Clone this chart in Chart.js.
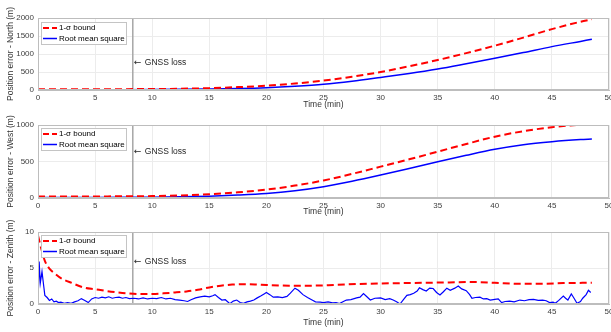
<!DOCTYPE html>
<html>
<head>
<meta charset="utf-8">
<script src="https://cdn.jsdelivr.net/npm/chart.js@4.4.1/dist/chart.umd.min.js"></script>
<style>
  html, body { margin: 0; padding: 0; background: #fff; overflow: hidden; }
  body { width: 611px; height: 332px; position: relative; }
  canvas { position: absolute; left: 0; }
</style>
</head>
<body>
<canvas id="northChart" width="611" height="110" style="top:0px"></canvas>
<canvas id="westChart" width="611" height="110" style="top:110px"></canvas>
<canvas id="zenithChart" width="611" height="112" style="top:220px"></canvas>
<script>
// time axis ticks (min)
const timeTicks = [0, 5, 10, 15, 20, 25, 30, 35, 40, 45, 50];
const gnssLossTime = 8.3;

// North / West error curves, sampled every 2.5 min
const smoothTime = [0, 2.5, 5, 7.5, 10, 12.5, 15, 17.5, 20, 22.5, 25, 27.5, 30, 32.5, 35, 37.5, 40, 42.5, 45, 47.5, 48.5];
const northSigma = [22, 22, 23, 24, 27, 35, 52, 80, 120, 180, 260, 370, 500, 660, 833, 1025, 1231, 1455, 1690, 1895, 1965];
const northRms   = [8, 8, 8, 9, 12, 18, 28, 42, 65, 105, 160, 245, 350, 460, 585, 730, 880, 1040, 1205, 1350, 1408];
const westSigma  = [22, 22, 22, 23, 26, 35, 52, 78, 115, 170, 240, 330, 430, 530, 635, 740, 840, 915, 970, 1005, 1012];
const westRms    = [8, 8, 8, 9, 11, 16, 25, 40, 62, 100, 155, 230, 315, 405, 497, 585, 667, 730, 771, 800, 808];

// Zenith bound
const zenithSigmaTime = [0, 0.3, 0.6, 1, 1.5, 2, 3, 4, 5, 6, 7, 8, 9, 10, 11, 12, 13, 14, 15, 16, 17, 18, 19, 20, 22, 24, 26, 28, 30, 32, 34, 36, 38, 40, 42, 44, 46, 48.5];
const zenithSigma = [9.5, 7.6, 6.0, 4.9, 4.2, 3.6, 2.9, 2.3, 2.05, 1.8, 1.6, 1.45, 1.38, 1.4, 1.48, 1.6, 1.75, 1.98, 2.3, 2.55, 2.7, 2.75, 2.72, 2.65, 2.55, 2.55, 2.65, 2.78, 2.85, 2.9, 2.95, 3.0, 3.05, 2.95, 2.8, 2.8, 2.9, 2.95];

// Zenith RMS (noisy)
const zenithRmsTime = [0, 0.1, 0.2, 0.35, 0.5, 0.6, 0.8, 1.0, 1.2, 1.4, 1.6, 1.8, 2.0, 2.3, 2.6, 2.9, 3.2, 3.5, 3.8, 4.1, 4.4, 4.7, 5.0, 5.3, 5.6, 5.9, 6.2, 6.5, 6.8, 7.1, 7.4, 7.7, 8.0, 8.4, 8.8, 9.2, 9.6, 10.0, 10.4, 10.8, 11.2, 11.6, 12.0, 12.4, 12.8, 13.1, 13.4, 13.8, 14.2, 14.6, 15.0, 15.3, 15.5, 15.8, 16.1, 16.4, 16.8, 17.1, 17.4, 17.7, 18.0, 18.3, 18.6, 18.9, 19.2, 19.5, 19.8, 20.0, 20.3, 20.6, 21.0, 21.4, 21.8, 22.1, 22.5, 22.8, 23.2, 23.6, 24.0, 24.3, 24.7, 25.0, 25.4, 25.8, 26.1, 26.4, 26.7, 27.0, 27.4, 27.9, 28.2, 28.5, 28.8, 29.1, 29.5, 30.0, 30.4, 30.8, 31.1, 31.4, 31.7, 32.0, 32.3, 32.6, 32.9, 33.2, 33.4, 33.7, 34.0, 34.3, 34.6, 34.9, 35.2, 35.5, 35.8, 36.1, 36.5, 36.8, 37.1, 37.5, 37.8, 38.0, 38.3, 38.7, 39.0, 39.3, 39.6, 40.0, 40.3, 40.6, 40.9, 41.3, 41.7, 42.2, 42.6, 43.0, 43.4, 43.8, 44.2, 44.5, 44.8, 45.1, 45.3, 45.6, 46.0, 46.2, 46.4, 46.7, 46.9, 47.2, 47.5, 47.7, 48.0, 48.2, 48.4];
const zenithRms = [0, 5.9, 2.9, 4.5, 2.5, 1.2, 0.9, 0.5, 0.7, 0.3, 0.4, 0.2, 0.25, 0.1, 0.2, 0.1, 0.3, 0.45, 0.75, 0.5, 0.2, 0.7, 0.9, 0.8, 0.95, 0.85, 1.0, 0.8, 0.9, 0.95, 0.8, 0.9, 0.75, 0.8, 0.7, 0.85, 0.7, 0.8, 0.75, 0.9, 0.7, 0.8, 0.6, 0.55, 0.45, 0.35, 0.6, 0.85, 1.0, 1.1, 1.0, 1.15, 1.3, 0.9, 0.55, 0.6, 0.05, 0.4, 0.55, 0.2, 0.1, 0.3, 0.4, 0.55, 0.85, 1.1, 1.4, 1.6, 1.3, 0.95, 1.0, 0.9, 1.05, 1.5, 2.2, 1.9, 1.3, 0.9, 0.55, 0.3, 0.25, 0.2, 0.3, 0.15, 0.2, 0.05, 0.3, 0.55, 0.6, 0.85, 0.95, 1.45, 1.0, 0.55, 0.8, 0.85, 0.6, 0.75, 0.55, 0.3, 0.0, 0.6, 1.2, 1.3, 1.5, 1.8, 2.25, 2.0, 1.8, 2.2, 2.15, 1.6, 1.25, 1.7, 2.2, 1.9, 2.2, 2.5, 2.1, 1.85, 1.3, 0.8, 0.9, 0.95, 0.7, 0.75, 0.55, 0.65, 0.7, 0.2, 0.35, 0.4, 0.3, 0.55, 0.45, 0.6, 0.65, 0.5, 0.55, 0.45, 0.2, 0.25, 0.1, 0.5, 1.1, 0.8, 0.55, 1.4, 0.9, 0.1, 0.35, 0.8, 1.3, 1.9, 1.6];

const legendLabels = ['1-\u03c3 bound', 'Root mean square'];
const FONT = '"Liberation Sans", Arial, Helvetica, sans-serif';
const RED = '#ff0000';
const BLUE = '#0000ff';

function toPoints(xs, ys) {
  return xs.map((x, i) => ({ x, y: ys[i] }));
}

// gnss line, label, box and legend drawn on top of the axes
const overlayPlugin = {
  id: 'overlay',
  beforeDatasetsDraw(chart) {
    const { ctx, chartArea, scales } = chart;
    const x = scales.x.getPixelForValue(gnssLossTime);
    ctx.save();
    ctx.strokeStyle = '#a6a6a6';
    ctx.lineWidth = 1.5;
    ctx.beginPath();
    ctx.moveTo(x, chartArea.top);
    ctx.lineTo(x, chartArea.bottom);
    ctx.stroke();
    ctx.restore();
  },
  afterDraw(chart) {
    const { ctx, chartArea, scales } = chart;
    const opts = chart.options.plugins.overlay;
    ctx.save();
    // box
    ctx.strokeStyle = '#bdbdbd';
    ctx.lineWidth = 1;
    ctx.strokeRect(chartArea.left + 0.5, chartArea.top + 0.5,
      chartArea.right - chartArea.left - 1, chartArea.bottom - chartArea.top - 1);

    // GNSS loss label
    const gx = scales.x.getPixelForValue(gnssLossTime);
    const gy = Math.round(scales.y.getPixelForValue(opts.labelY));
    ctx.fillStyle = '#262626';
    ctx.textBaseline = 'middle';
    ctx.textAlign = 'left';
    ctx.font = '9px "DejaVu Sans", sans-serif';
    ctx.fillText('\u2190', gx + 1, gy);
    ctx.font = '8.5px ' + FONT;
    ctx.fillText('GNSS loss', gx + 12, gy);

    // legend
    const lx = chartArea.left + 3;
    const ly = chartArea.top + opts.legendTop;
    const w = 86, h = 23;
    ctx.fillStyle = '#fff';
    ctx.fillRect(lx, ly, w, h);
    ctx.strokeStyle = '#c4c4c4';
    ctx.strokeRect(lx + 0.5, ly + 0.5, w - 1, h - 1);

    const rows = [ly + 6, ly + 16.5];
    ctx.lineWidth = 2;
    ctx.strokeStyle = RED;
    ctx.setLineDash([6, 3]);
    ctx.beginPath();
    ctx.moveTo(lx + 2, rows[0]);
    ctx.lineTo(lx + 16, rows[0]);
    ctx.stroke();
    ctx.setLineDash([]);
    ctx.lineWidth = 1.5;
    ctx.strokeStyle = BLUE;
    ctx.beginPath();
    ctx.moveTo(lx + 2, rows[1]);
    ctx.lineTo(lx + 16, rows[1]);
    ctx.stroke();

    ctx.fillStyle = '#000';
    ctx.font = '8px ' + FONT;
    ctx.fillText(legendLabels[0], lx + 18, rows[0]);
    ctx.fillText(legendLabels[1], lx + 18, rows[1]);
    ctx.restore();
  }
};

function makePanel(id, cfg) {
  const canvas = document.getElementById(id);
  const H = canvas.height;
  return new Chart(canvas, {
    type: 'line',
    data: {
      datasets: [{
        label: legendLabels[0],
        data: cfg.sigma,
        borderColor: RED,
        borderWidth: 2,
        borderDash: [7, 4],
        pointRadius: 0,
        fill: false,
        cubicInterpolationMode: 'monotone'
      }, {
        label: legendLabels[1],
        data: cfg.rms,
        borderColor: BLUE,
        borderWidth: cfg.rmsWidth,
        pointRadius: 0,
        fill: false,
        cubicInterpolationMode: cfg.rmsSmooth ? 'monotone' : 'default',
        tension: 0
      }]
    },
    options: {
      responsive: false,
      animation: false,
      events: [],
      layout: { padding: { left: 0, right: 2, top: cfg.top, bottom: 0 } },
      plugins: {
        legend: { display: false },
        tooltip: { enabled: false },
        overlay: { labelY: cfg.labelY, legendTop: cfg.legendTop }
      },
      scales: {
        x: {
          type: 'linear',
          min: 0,
          max: 50,
          afterBuildTicks: (s) => { s.ticks = timeTicks.map(v => ({ value: v })); },
          ticks: {
            color: '#404040', font: { family: FONT, size: 8 }, padding: 3, maxRotation: 0,
            callback: (v) => String(v)
          },
          grid: { color: '#ececec', drawTicks: false },
          border: { color: '#bdbdbd' },
          title: {
            display: true, text: 'Time (min)', color: '#333333',
            font: { family: FONT, size: 8.5, weight: 'normal', lineHeight: '10px' },
            padding: { top: 0, bottom: cfg.titlePad }
          },
          afterFit: (s) => { s.height = H - cfg.bottom; s.paddingLeft = 0; s.paddingRight = 0; }
        },
        y: {
          min: 0,
          max: cfg.yMax,
          afterBuildTicks: (s) => { s.ticks = cfg.yTicks.map(v => ({ value: v })); },
          ticks: {
            color: '#404040', font: { family: FONT, size: 8 }, padding: 4,
            callback: (v) => String(v)
          },
          grid: { color: '#ececec', drawTicks: false },
          border: { color: '#bdbdbd' },
          title: {
            display: true, text: cfg.yTitle, color: '#333333',
            font: { family: FONT, size: 8.5, weight: 'normal', lineHeight: '10px' },
            padding: { top: 6, bottom: 0 }
          },
          afterFit: (s) => { s.width = 38; s.paddingTop = 0; s.paddingBottom = 0; }
        }
      }
    },
    plugins: [overlayPlugin]
  });
}

makePanel('northChart', {
  sigma: toPoints(smoothTime, northSigma),
  rms: toPoints(smoothTime, northRms),
  rmsWidth: 1.5, rmsSmooth: true,
  yMax: 2000, yTicks: [0, 500, 1000, 1500, 2000],
  yTitle: 'Position error - North (m)',
  top: 18, bottom: 90, titlePad: 0, labelY: 750, legendTop: 4
});

makePanel('westChart', {
  sigma: toPoints(smoothTime, westSigma),
  rms: toPoints(smoothTime, westRms),
  rmsWidth: 1.5, rmsSmooth: true,
  yMax: 1000, yTicks: [0, 500, 1000],
  yTitle: 'Position error - West (m)',
  top: 15, bottom: 88, titlePad: 3, labelY: 630, legendTop: 3
});

makePanel('zenithChart', {
  sigma: toPoints(zenithSigmaTime, zenithSigma),
  rms: toPoints(zenithRmsTime, zenithRms),
  rmsWidth: 1.2, rmsSmooth: false,
  yMax: 10, yTicks: [0, 5, 10],
  yTitle: 'Position error - Zenith (m)',
  top: 12, bottom: 84, titlePad: 4, labelY: 5.8, legendTop: 3
});
</script>
</body>
</html>
